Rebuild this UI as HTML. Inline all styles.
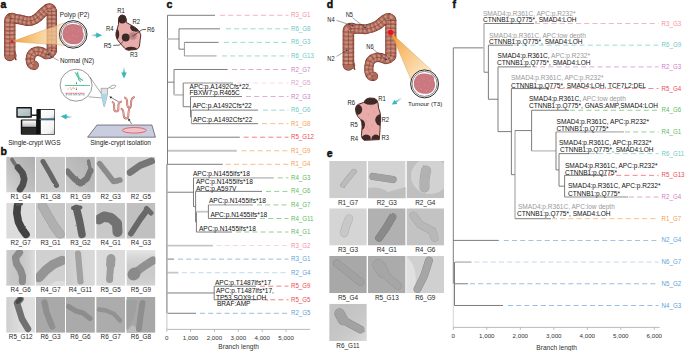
<!DOCTYPE html><html><head><meta charset="utf-8"><style>html,body{margin:0;padding:0;background:#fff;width:685px;height:351px;overflow:hidden}svg{display:block}text{font-family:"Liberation Sans",sans-serif}</style></head><body>
<svg width="685" height="351" viewBox="0 0 685 351">
<rect width="685" height="351" fill="#fff"/>
<text x="0.50" y="7.90" font-size="10.5" fill="#111" text-anchor="start" font-weight="bold" stroke="#111" stroke-width="0.45">a</text>
<text x="0.60" y="155.30" font-size="10.5" fill="#111" text-anchor="start" font-weight="bold" stroke="#111" stroke-width="0.45">b</text>
<text x="166.60" y="7.90" font-size="10.5" fill="#111" text-anchor="start" font-weight="bold" stroke="#111" stroke-width="0.45">c</text>
<text x="326.80" y="7.60" font-size="10.5" fill="#111" text-anchor="start" font-weight="bold" stroke="#111" stroke-width="0.45">d</text>
<text x="326.80" y="157.00" font-size="10.5" fill="#111" text-anchor="start" font-weight="bold" stroke="#111" stroke-width="0.45">e</text>
<text x="452.60" y="7.60" font-size="10.5" fill="#111" text-anchor="start" font-weight="bold" stroke="#111" stroke-width="0.45">f</text>
<line x1="167.50" y1="15.30" x2="215.00" y2="15.30" stroke="#666" stroke-width="0.85"/>
<line x1="220.00" y1="15.30" x2="288.50" y2="15.30" stroke="#f3909f" stroke-width="0.8" stroke-dasharray="5 3.2" opacity="0.85"/>
<text transform="translate(291.00,17.35) scale(0.79,1)" font-size="7.8" fill="#f3909f">R3_G1</text>
<line x1="179.00" y1="28.84" x2="220.00" y2="28.84" stroke="#666" stroke-width="0.85"/>
<line x1="226.00" y1="28.84" x2="288.50" y2="28.84" stroke="#6cc9c4" stroke-width="0.8" stroke-dasharray="5 3.2" opacity="0.85"/>
<text transform="translate(291.00,30.89) scale(0.79,1)" font-size="7.8" fill="#6cc9c4">R6_G8</text>
<line x1="184.40" y1="42.39" x2="218.60" y2="42.39" stroke="#666" stroke-width="0.85"/>
<line x1="224.00" y1="42.39" x2="288.50" y2="42.39" stroke="#6cc9c4" stroke-width="0.8" stroke-dasharray="5 3.2" opacity="0.85"/>
<text transform="translate(291.00,44.44) scale(0.79,1)" font-size="7.8" fill="#6cc9c4">R6_G3</text>
<line x1="184.40" y1="55.94" x2="216.60" y2="55.94" stroke="#c6c6c6" stroke-width="1.8"/>
<line x1="222.00" y1="55.94" x2="288.50" y2="55.94" stroke="#6cc9c4" stroke-width="0.8" stroke-dasharray="5 3.2" opacity="0.85"/>
<text transform="translate(291.00,57.98) scale(0.79,1)" font-size="7.8" fill="#6cc9c4">R6_G13</text>
<line x1="174.00" y1="69.48" x2="227.60" y2="69.48" stroke="#666" stroke-width="0.85"/>
<line x1="232.00" y1="69.48" x2="288.50" y2="69.48" stroke="#cf80bf" stroke-width="0.8" stroke-dasharray="5 3.2" opacity="0.85"/>
<text transform="translate(291.00,71.53) scale(0.79,1)" font-size="7.8" fill="#cf80bf">R2_G7</text>
<line x1="183.20" y1="83.02" x2="233.00" y2="83.02" stroke="#c6c6c6" stroke-width="1.8"/>
<line x1="237.00" y1="83.02" x2="288.50" y2="83.02" stroke="#ecc9e5" stroke-width="0.8" stroke-dasharray="5 3.2" opacity="0.85"/>
<text transform="translate(291.00,85.07) scale(0.79,1)" font-size="7.8" fill="#dd9ed0">R2_G5</text>
<line x1="190.50" y1="96.57" x2="242.00" y2="96.57" stroke="#666" stroke-width="0.85"/>
<line x1="246.00" y1="96.57" x2="288.50" y2="96.57" stroke="#cf80bf" stroke-width="0.8" stroke-dasharray="5 3.2" opacity="0.85"/>
<text transform="translate(291.00,98.62) scale(0.79,1)" font-size="7.8" fill="#cf80bf">R2_G3</text>
<line x1="191.40" y1="110.11" x2="258.00" y2="110.11" stroke="#666" stroke-width="0.85"/>
<line x1="263.00" y1="110.11" x2="288.50" y2="110.11" stroke="#6cc9c4" stroke-width="0.8" stroke-dasharray="5 3.2" opacity="0.85"/>
<text transform="translate(291.00,112.16) scale(0.79,1)" font-size="7.8" fill="#6cc9c4">R6_G6</text>
<line x1="191.40" y1="123.66" x2="258.00" y2="123.66" stroke="#666" stroke-width="0.85"/>
<line x1="262.00" y1="123.66" x2="288.50" y2="123.66" stroke="#f4a050" stroke-width="0.8" stroke-dasharray="5 3.2" opacity="0.85"/>
<text transform="translate(291.00,125.71) scale(0.79,1)" font-size="7.8" fill="#f4a050">R1_G8</text>
<line x1="167.50" y1="137.21" x2="239.80" y2="137.21" stroke="#666" stroke-width="0.85"/>
<line x1="243.70" y1="137.21" x2="288.50" y2="137.21" stroke="#ed4752" stroke-width="0.8" stroke-dasharray="5 3.2" opacity="0.85"/>
<text transform="translate(291.00,139.26) scale(0.79,1)" font-size="7.8" fill="#ed4752">R5_G12</text>
<line x1="167.50" y1="150.75" x2="236.80" y2="150.75" stroke="#c6c6c6" stroke-width="1.8"/>
<line x1="241.40" y1="150.75" x2="288.50" y2="150.75" stroke="#f4a050" stroke-width="0.8" stroke-dasharray="5 3.2" opacity="0.85"/>
<text transform="translate(291.00,152.80) scale(0.79,1)" font-size="7.8" fill="#f4a050">R1_G9</text>
<line x1="167.50" y1="164.30" x2="222.80" y2="164.30" stroke="#666" stroke-width="0.85"/>
<line x1="225.80" y1="164.30" x2="288.50" y2="164.30" stroke="#f4a050" stroke-width="0.8" stroke-dasharray="5 3.2" opacity="0.85"/>
<text transform="translate(291.00,166.35) scale(0.79,1)" font-size="7.8" fill="#f4a050">R1_G4</text>
<line x1="193.50" y1="177.84" x2="273.70" y2="177.84" stroke="#c6c6c6" stroke-width="1.8"/>
<line x1="277.80" y1="177.84" x2="288.50" y2="177.84" stroke="#62ba62" stroke-width="0.8" stroke-dasharray="5 3.2" opacity="0.85"/>
<text transform="translate(291.00,179.89) scale(0.79,1)" font-size="7.8" fill="#62ba62">R4_G3</text>
<line x1="195.60" y1="191.39" x2="262.00" y2="191.39" stroke="#666" stroke-width="0.85"/>
<line x1="266.00" y1="191.39" x2="288.50" y2="191.39" stroke="#62ba62" stroke-width="0.8" stroke-dasharray="5 3.2" opacity="0.85"/>
<text transform="translate(291.00,193.44) scale(0.79,1)" font-size="7.8" fill="#62ba62">R4_G6</text>
<line x1="208.40" y1="204.93" x2="253.00" y2="204.93" stroke="#c6c6c6" stroke-width="1.8"/>
<line x1="257.00" y1="204.93" x2="288.50" y2="204.93" stroke="#62ba62" stroke-width="0.8" stroke-dasharray="5 3.2" opacity="0.85"/>
<text transform="translate(291.00,206.98) scale(0.79,1)" font-size="7.8" fill="#62ba62">R4_G7</text>
<line x1="208.40" y1="218.48" x2="256.00" y2="218.48" stroke="#666" stroke-width="0.85"/>
<line x1="260.00" y1="218.48" x2="288.50" y2="218.48" stroke="#62ba62" stroke-width="0.8" stroke-dasharray="5 3.2" opacity="0.85"/>
<text transform="translate(291.00,220.53) scale(0.79,1)" font-size="7.8" fill="#62ba62">R4_G11</text>
<line x1="196.40" y1="232.02" x2="232.00" y2="232.02" stroke="#666" stroke-width="0.85"/>
<line x1="236.00" y1="232.02" x2="288.50" y2="232.02" stroke="#62ba62" stroke-width="0.8" stroke-dasharray="5 3.2" opacity="0.85"/>
<text transform="translate(291.00,234.07) scale(0.79,1)" font-size="7.8" fill="#62ba62">R4_G1</text>
<line x1="167.50" y1="245.56" x2="213.00" y2="245.56" stroke="#c6c6c6" stroke-width="1.8"/>
<line x1="216.40" y1="245.56" x2="288.50" y2="245.56" stroke="#f8c1ca" stroke-width="0.8" stroke-dasharray="5 3.2" opacity="0.85"/>
<text transform="translate(291.00,247.62) scale(0.79,1)" font-size="7.8" fill="#f3909f">R3_G2</text>
<line x1="167.50" y1="259.11" x2="174.00" y2="259.11" stroke="#666" stroke-width="0.85"/>
<line x1="178.00" y1="259.11" x2="288.50" y2="259.11" stroke="#609fd8" stroke-width="0.8" stroke-dasharray="5 3.2" opacity="0.85"/>
<text transform="translate(291.00,261.16) scale(0.79,1)" font-size="7.8" fill="#609fd8">R3_G1</text>
<line x1="167.50" y1="272.66" x2="178.40" y2="272.66" stroke="#c6c6c6" stroke-width="1.8"/>
<line x1="182.00" y1="272.66" x2="288.50" y2="272.66" stroke="#a7cae9" stroke-width="0.8" stroke-dasharray="5 3.2" opacity="0.85"/>
<text transform="translate(291.00,274.71) scale(0.79,1)" font-size="7.8" fill="#609fd8">R2_G4</text>
<line x1="214.20" y1="286.20" x2="256.00" y2="286.20" stroke="#666" stroke-width="0.85"/>
<line x1="260.00" y1="286.20" x2="288.50" y2="286.20" stroke="#ed4752" stroke-width="0.8" stroke-dasharray="5 3.2" opacity="0.85"/>
<text transform="translate(291.00,288.25) scale(0.79,1)" font-size="7.8" fill="#ed4752">R5_G9</text>
<line x1="214.20" y1="299.75" x2="258.00" y2="299.75" stroke="#666" stroke-width="0.85"/>
<line x1="262.00" y1="299.75" x2="288.50" y2="299.75" stroke="#ed4752" stroke-width="0.8" stroke-dasharray="5 3.2" opacity="0.85"/>
<text transform="translate(291.00,301.80) scale(0.79,1)" font-size="7.8" fill="#ed4752">R5_G5</text>
<line x1="167.50" y1="313.29" x2="196.00" y2="313.29" stroke="#666" stroke-width="0.85"/>
<line x1="200.00" y1="313.29" x2="288.50" y2="313.29" stroke="#609fd8" stroke-width="0.8" stroke-dasharray="5 3.2" opacity="0.85"/>
<text transform="translate(291.00,315.34) scale(0.79,1)" font-size="7.8" fill="#609fd8">R2_G5</text>
<line x1="167.50" y1="15.30" x2="167.50" y2="164.70" stroke="#666" stroke-width="0.85"/>
<line x1="166.90" y1="164.30" x2="166.90" y2="313.29" stroke="#8c8c8c" stroke-width="1.2"/>
<line x1="166.90" y1="313.29" x2="166.90" y2="329.40" stroke="#c8c8c8" stroke-width="1.0"/>
<line x1="167.50" y1="39.00" x2="179.00" y2="39.00" stroke="#c6c6c6" stroke-width="1.8"/>
<line x1="179.00" y1="28.84" x2="179.00" y2="49.16" stroke="#666" stroke-width="0.85"/>
<line x1="179.00" y1="49.16" x2="184.40" y2="49.16" stroke="#666" stroke-width="0.85"/>
<line x1="184.40" y1="42.39" x2="184.40" y2="55.94" stroke="#888" stroke-width="0.85"/>
<line x1="167.50" y1="82.18" x2="174.00" y2="82.18" stroke="#666" stroke-width="0.85"/>
<line x1="174.00" y1="69.48" x2="174.00" y2="94.88" stroke="#666" stroke-width="0.85"/>
<line x1="174.00" y1="94.88" x2="183.20" y2="94.88" stroke="#c6c6c6" stroke-width="1.8"/>
<line x1="183.20" y1="83.02" x2="183.20" y2="106.73" stroke="#666" stroke-width="0.85"/>
<line x1="183.20" y1="106.73" x2="190.50" y2="106.73" stroke="#666" stroke-width="0.85"/>
<line x1="190.50" y1="96.57" x2="190.50" y2="116.89" stroke="#666" stroke-width="0.85"/>
<line x1="190.50" y1="116.89" x2="191.40" y2="116.89" stroke="#666" stroke-width="0.85"/>
<line x1="191.40" y1="110.11" x2="191.40" y2="123.66" stroke="#888" stroke-width="0.85"/>
<line x1="167.50" y1="192.23" x2="193.50" y2="192.23" stroke="#666" stroke-width="0.85"/>
<line x1="193.50" y1="177.84" x2="193.50" y2="206.62" stroke="#666" stroke-width="0.85"/>
<line x1="193.50" y1="206.62" x2="195.60" y2="206.62" stroke="#666" stroke-width="0.85"/>
<line x1="195.60" y1="191.39" x2="195.60" y2="221.86" stroke="#666" stroke-width="0.85"/>
<line x1="195.60" y1="221.86" x2="196.40" y2="221.86" stroke="#666" stroke-width="0.85"/>
<line x1="196.40" y1="211.70" x2="196.40" y2="232.02" stroke="#666" stroke-width="0.85"/>
<line x1="196.40" y1="211.70" x2="208.40" y2="211.70" stroke="#c6c6c6" stroke-width="1.8"/>
<line x1="208.40" y1="204.93" x2="208.40" y2="218.48" stroke="#666" stroke-width="0.85"/>
<line x1="167.50" y1="292.97" x2="214.20" y2="292.97" stroke="#666" stroke-width="0.85"/>
<line x1="214.20" y1="286.20" x2="214.20" y2="299.75" stroke="#666" stroke-width="0.85"/>
<line x1="166.70" y1="329.40" x2="310.30" y2="329.40" stroke="#aaa" stroke-width="0.8"/>
<line x1="166.70" y1="329.40" x2="166.70" y2="331.80" stroke="#aaa" stroke-width="0.8"/>
<text x="166.70" y="339.60" font-size="6.2" fill="#333" text-anchor="middle" font-weight="normal" >0</text>
<line x1="190.58" y1="329.40" x2="190.58" y2="331.80" stroke="#aaa" stroke-width="0.8"/>
<text x="190.58" y="339.60" font-size="6.2" fill="#333" text-anchor="middle" font-weight="normal" >1,000</text>
<line x1="214.46" y1="329.40" x2="214.46" y2="331.80" stroke="#aaa" stroke-width="0.8"/>
<text x="214.46" y="339.60" font-size="6.2" fill="#333" text-anchor="middle" font-weight="normal" >2,000</text>
<line x1="238.34" y1="329.40" x2="238.34" y2="331.80" stroke="#aaa" stroke-width="0.8"/>
<text x="238.34" y="339.60" font-size="6.2" fill="#333" text-anchor="middle" font-weight="normal" >3,000</text>
<line x1="262.22" y1="329.40" x2="262.22" y2="331.80" stroke="#aaa" stroke-width="0.8"/>
<text x="262.22" y="339.60" font-size="6.2" fill="#333" text-anchor="middle" font-weight="normal" >4,000</text>
<line x1="286.10" y1="329.40" x2="286.10" y2="331.80" stroke="#aaa" stroke-width="0.8"/>
<text x="286.10" y="339.60" font-size="6.2" fill="#333" text-anchor="middle" font-weight="normal" >5,000</text>
<text x="238.70" y="349.40" font-size="6.6" fill="#333" text-anchor="middle" font-weight="normal" >Branch length</text>
<text x="189.60" y="88.60" font-size="6.55" fill="#111" text-anchor="start" font-weight="normal" >APC:p.A1492Cfs*22,</text>
<text x="189.60" y="95.00" font-size="6.55" fill="#111" text-anchor="start" font-weight="normal" >FBXW7:p.R465C</text>
<text x="192.40" y="108.20" font-size="6.55" fill="#111" text-anchor="start" font-weight="normal" >APC:p.A1492Cfs*22</text>
<text x="193.00" y="122.20" font-size="6.55" fill="#111" text-anchor="start" font-weight="normal" >APC:p.A1492Cfs*22</text>
<text x="193.00" y="175.60" font-size="6.55" fill="#111" text-anchor="start" font-weight="normal" >APC:p.N1455Ifs*18</text>
<text x="196.00" y="183.60" font-size="6.55" fill="#111" text-anchor="start" font-weight="normal" >APC:p.N1455Ifs*18</text>
<text x="196.00" y="190.60" font-size="6.55" fill="#111" text-anchor="start" font-weight="normal" >APC:p.A597V</text>
<text x="209.00" y="203.20" font-size="6.55" fill="#111" text-anchor="start" font-weight="normal" >APC:p.N1455Ifs*18</text>
<text x="210.40" y="217.00" font-size="6.55" fill="#111" text-anchor="start" font-weight="normal" >APC:p.N1455Ifs*18</text>
<text x="199.00" y="230.60" font-size="6.55" fill="#111" text-anchor="start" font-weight="normal" >APC:p.N1455Ifs*18</text>
<text x="215.00" y="285.00" font-size="6.55" fill="#111" text-anchor="start" font-weight="normal" >APC:p.T1487Ifs*17</text>
<text x="216.00" y="293.20" font-size="6.55" fill="#111" text-anchor="start" font-weight="normal" >APC:p.T1487Ifs*17,</text>
<text x="216.00" y="299.60" font-size="6.55" fill="#111" text-anchor="start" font-weight="normal" >TP53,SOX9:LOH,</text>
<text x="217.00" y="305.60" font-size="6.55" fill="#111" text-anchor="start" font-weight="normal" >BRAF:AMP</text>
<line x1="484.00" y1="23.50" x2="534.00" y2="23.50" stroke="#666" stroke-width="0.85"/>
<line x1="535.00" y1="23.50" x2="658.50" y2="23.50" stroke="#f3909f" stroke-width="0.8" stroke-dasharray="5 3.2" opacity="0.85"/>
<text transform="translate(661.60,25.55) scale(0.79,1)" font-size="7.8" fill="#f3909f">R3_G3</text>
<line x1="488.40" y1="45.19" x2="513.00" y2="45.19" stroke="#666" stroke-width="0.85"/>
<line x1="514.00" y1="45.19" x2="658.50" y2="45.19" stroke="#6cc9c4" stroke-width="0.8" stroke-dasharray="5 3.2" opacity="0.85"/>
<text transform="translate(661.60,47.24) scale(0.79,1)" font-size="7.8" fill="#6cc9c4">R6_G9</text>
<line x1="498.00" y1="66.88" x2="531.00" y2="66.88" stroke="#666" stroke-width="0.85"/>
<line x1="532.00" y1="66.88" x2="658.50" y2="66.88" stroke="#cf80bf" stroke-width="0.8" stroke-dasharray="5 3.2" opacity="0.85"/>
<text transform="translate(661.60,68.93) scale(0.79,1)" font-size="7.8" fill="#cf80bf">R2_G3</text>
<line x1="511.40" y1="88.57" x2="549.00" y2="88.57" stroke="#666" stroke-width="0.85"/>
<line x1="550.00" y1="88.57" x2="658.50" y2="88.57" stroke="#ed4752" stroke-width="0.8" stroke-dasharray="5 3.2" opacity="0.85"/>
<text transform="translate(661.60,90.62) scale(0.79,1)" font-size="7.8" fill="#ed4752">R5_G4</text>
<line x1="531.60" y1="110.26" x2="569.00" y2="110.26" stroke="#666" stroke-width="0.85"/>
<line x1="570.00" y1="110.26" x2="658.50" y2="110.26" stroke="#62ba62" stroke-width="0.8" stroke-dasharray="5 3.2" opacity="0.85"/>
<text transform="translate(661.60,112.31) scale(0.79,1)" font-size="7.8" fill="#62ba62">R4_G6</text>
<line x1="556.00" y1="131.95" x2="624.00" y2="131.95" stroke="#c6c6c6" stroke-width="1.8"/>
<line x1="625.00" y1="131.95" x2="658.50" y2="131.95" stroke="#62ba62" stroke-width="0.8" stroke-dasharray="5 3.2" opacity="0.85"/>
<text transform="translate(661.60,134.00) scale(0.79,1)" font-size="7.8" fill="#62ba62">R4_G1</text>
<line x1="559.00" y1="153.64" x2="589.00" y2="153.64" stroke="#666" stroke-width="0.85"/>
<line x1="590.00" y1="153.64" x2="658.50" y2="153.64" stroke="#6cc9c4" stroke-width="0.8" stroke-dasharray="5 3.2" opacity="0.85"/>
<text transform="translate(661.60,155.69) scale(0.79,1)" font-size="7.8" fill="#6cc9c4">R6_G11</text>
<line x1="564.60" y1="175.33" x2="607.00" y2="175.33" stroke="#666" stroke-width="0.85"/>
<line x1="608.00" y1="175.33" x2="658.50" y2="175.33" stroke="#ed4752" stroke-width="0.8" stroke-dasharray="5 3.2" opacity="0.85"/>
<text transform="translate(661.60,177.38) scale(0.79,1)" font-size="7.8" fill="#ed4752">R5_G13</text>
<line x1="564.60" y1="197.02" x2="628.00" y2="197.02" stroke="#c6c6c6" stroke-width="1.8"/>
<line x1="629.00" y1="197.02" x2="658.50" y2="197.02" stroke="#cf80bf" stroke-width="0.8" stroke-dasharray="5 3.2" opacity="0.85"/>
<text transform="translate(661.60,199.07) scale(0.79,1)" font-size="7.8" fill="#cf80bf">R2_G4</text>
<line x1="515.00" y1="218.71" x2="551.00" y2="218.71" stroke="#666" stroke-width="0.85"/>
<line x1="552.00" y1="218.71" x2="658.50" y2="218.71" stroke="#f4a050" stroke-width="0.8" stroke-dasharray="5 3.2" opacity="0.85"/>
<text transform="translate(661.60,220.76) scale(0.79,1)" font-size="7.8" fill="#f4a050">R1_G7</text>
<line x1="453.30" y1="240.40" x2="498.80" y2="240.40" stroke="#666" stroke-width="0.85"/>
<line x1="503.80" y1="240.40" x2="658.50" y2="240.40" stroke="#609fd8" stroke-width="0.8" stroke-dasharray="5 3.2" opacity="0.85"/>
<text transform="translate(661.60,242.45) scale(0.79,1)" font-size="7.8" fill="#609fd8">N2_G4</text>
<line x1="455.00" y1="262.09" x2="471.50" y2="262.09" stroke="#c6c6c6" stroke-width="1.8"/>
<line x1="474.40" y1="262.09" x2="658.50" y2="262.09" stroke="#a7cae9" stroke-width="0.8" stroke-dasharray="5 3.2" opacity="0.85"/>
<text transform="translate(661.60,264.14) scale(0.79,1)" font-size="7.8" fill="#609fd8">N6_G7</text>
<line x1="455.00" y1="283.78" x2="468.00" y2="283.78" stroke="#666" stroke-width="0.85"/>
<line x1="470.00" y1="283.78" x2="658.50" y2="283.78" stroke="#609fd8" stroke-width="0.8" stroke-dasharray="5 3.2" opacity="0.85"/>
<text transform="translate(661.60,285.83) scale(0.79,1)" font-size="7.8" fill="#609fd8">N5_G2</text>
<line x1="454.40" y1="305.47" x2="503.00" y2="305.47" stroke="#666" stroke-width="0.85"/>
<line x1="508.00" y1="305.47" x2="658.50" y2="305.47" stroke="#609fd8" stroke-width="0.8" stroke-dasharray="5 3.2" opacity="0.85"/>
<text transform="translate(661.60,307.52) scale(0.79,1)" font-size="7.8" fill="#609fd8">N4_G3</text>
<line x1="453.30" y1="47.86" x2="453.30" y2="283.78" stroke="#666" stroke-width="0.85"/>
<line x1="453.30" y1="283.78" x2="453.30" y2="327.40" stroke="#ccc" stroke-width="0.85"/>
<line x1="453.30" y1="47.86" x2="484.00" y2="47.86" stroke="#666" stroke-width="0.85"/>
<line x1="484.00" y1="23.50" x2="484.00" y2="72.22" stroke="#c6c6c6" stroke-width="1.8"/>
<line x1="484.00" y1="72.22" x2="488.40" y2="72.22" stroke="#666" stroke-width="0.85"/>
<line x1="488.40" y1="45.19" x2="488.40" y2="99.25" stroke="#666" stroke-width="0.85"/>
<line x1="488.40" y1="99.25" x2="498.00" y2="99.25" stroke="#666" stroke-width="0.85"/>
<line x1="498.00" y1="66.88" x2="498.00" y2="131.61" stroke="#666" stroke-width="0.85"/>
<line x1="498.00" y1="131.61" x2="511.40" y2="131.61" stroke="#666" stroke-width="0.85"/>
<line x1="511.40" y1="88.57" x2="511.40" y2="174.65" stroke="#666" stroke-width="0.85"/>
<line x1="511.40" y1="174.65" x2="515.00" y2="174.65" stroke="#666" stroke-width="0.85"/>
<line x1="515.00" y1="130.59" x2="515.00" y2="218.71" stroke="#888" stroke-width="0.85"/>
<line x1="515.00" y1="130.59" x2="531.60" y2="130.59" stroke="#666" stroke-width="0.85"/>
<line x1="531.60" y1="110.26" x2="531.60" y2="150.93" stroke="#666" stroke-width="0.85"/>
<line x1="531.60" y1="150.93" x2="556.00" y2="150.93" stroke="#999" stroke-width="0.85"/>
<line x1="556.00" y1="131.95" x2="556.00" y2="169.91" stroke="#666" stroke-width="0.85"/>
<line x1="556.00" y1="169.91" x2="559.00" y2="169.91" stroke="#666" stroke-width="0.85"/>
<line x1="559.00" y1="153.64" x2="559.00" y2="186.18" stroke="#666" stroke-width="0.85"/>
<line x1="559.00" y1="186.18" x2="564.60" y2="186.18" stroke="#666" stroke-width="0.85"/>
<line x1="564.60" y1="175.33" x2="564.60" y2="197.02" stroke="#666" stroke-width="0.85"/>
<line x1="454.50" y1="262.09" x2="454.50" y2="305.47" stroke="#666" stroke-width="0.85"/>
<line x1="453.30" y1="327.40" x2="659.70" y2="327.40" stroke="#aaa" stroke-width="0.8"/>
<line x1="453.30" y1="327.40" x2="453.30" y2="329.80" stroke="#aaa" stroke-width="0.8"/>
<text x="453.30" y="337.60" font-size="6.2" fill="#333" text-anchor="middle" font-weight="normal" >0</text>
<line x1="486.80" y1="327.40" x2="486.80" y2="329.80" stroke="#aaa" stroke-width="0.8"/>
<text x="486.80" y="337.60" font-size="6.2" fill="#333" text-anchor="middle" font-weight="normal" >1,000</text>
<line x1="520.30" y1="327.40" x2="520.30" y2="329.80" stroke="#aaa" stroke-width="0.8"/>
<text x="520.30" y="337.60" font-size="6.2" fill="#333" text-anchor="middle" font-weight="normal" >2,000</text>
<line x1="553.80" y1="327.40" x2="553.80" y2="329.80" stroke="#aaa" stroke-width="0.8"/>
<text x="553.80" y="337.60" font-size="6.2" fill="#333" text-anchor="middle" font-weight="normal" >3,000</text>
<line x1="587.30" y1="327.40" x2="587.30" y2="329.80" stroke="#aaa" stroke-width="0.8"/>
<text x="587.30" y="337.60" font-size="6.2" fill="#333" text-anchor="middle" font-weight="normal" >4,000</text>
<line x1="620.80" y1="327.40" x2="620.80" y2="329.80" stroke="#aaa" stroke-width="0.8"/>
<text x="620.80" y="337.60" font-size="6.2" fill="#333" text-anchor="middle" font-weight="normal" >5,000</text>
<line x1="654.30" y1="327.40" x2="654.30" y2="329.80" stroke="#aaa" stroke-width="0.8"/>
<text x="654.30" y="337.60" font-size="6.2" fill="#333" text-anchor="middle" font-weight="normal" >6,000</text>
<text x="556.70" y="349.60" font-size="6.6" fill="#333" text-anchor="middle" font-weight="normal" >Branch length</text>
<text x="483.00" y="16.40" font-size="6.55"><tspan fill="#999">SMAD4:p.R361C, APC:p.R232*</tspan></text>
<text x="483.00" y="22.40" font-size="6.55"><tspan fill="#111">CTNNB1:p.Q775*, SMAD4:LOH</tspan></text>
<text x="489.00" y="37.80" font-size="6.55"><tspan fill="#999">SMAD4:p.R361C, APC:low depth</tspan></text>
<text x="489.00" y="44.20" font-size="6.55"><tspan fill="#111">CTNNB1:p.Q775*, SMAD4:LOH</tspan></text>
<text x="497.60" y="57.80" font-size="6.55"><tspan fill="#111">SMAD4:p.R361C, </tspan><tspan fill="#999">APC:p.R232*</tspan></text>
<text x="497.00" y="65.20" font-size="6.55"><tspan fill="#111">CTNNB1:p.Q775*, SMAD4:LOH</tspan></text>
<text x="511.00" y="80.40" font-size="6.55"><tspan fill="#999">SMAD4:p.R361C, APC:p.R232*</tspan></text>
<text x="511.00" y="87.80" font-size="6.55"><tspan fill="#111">CTNNB1:p.Q775*, SMAD4:LOH, TCF7L2:DEL</tspan></text>
<text x="529.00" y="100.80" font-size="6.55"><tspan fill="#111">SMAD4:p.R361C, </tspan><tspan fill="#999">APC:low depth</tspan></text>
<text x="529.00" y="108.40" font-size="6.55"><tspan fill="#111">CTNNB1:p.Q775*, GNAS:AMP,SMAD4:LOH</tspan></text>
<text x="556.60" y="123.80" font-size="6.55"><tspan fill="#111">SMAD4:p.R361C, APC:p.R232*</tspan></text>
<text x="556.40" y="131.20" font-size="6.55"><tspan fill="#111">CTNNB1:p.Q775*</tspan></text>
<text x="559.00" y="144.80" font-size="6.55"><tspan fill="#111">SMAD4:p.R361C, APC:p.R232*</tspan></text>
<text x="560.00" y="151.80" font-size="6.55"><tspan fill="#111">CTNNB1:p.Q775*, SMAD4:LOH</tspan></text>
<text x="565.00" y="168.40" font-size="6.55"><tspan fill="#111">SMAD4:p.R361C, APC:p.R232*</tspan></text>
<text x="565.00" y="174.80" font-size="6.55"><tspan fill="#111">CTNNB1:p.Q775*</tspan></text>
<text x="568.00" y="187.80" font-size="6.55"><tspan fill="#111">SMAD4:p.R361C, APC:p.R232*</tspan></text>
<text x="568.00" y="195.80" font-size="6.55"><tspan fill="#111">CTNNB1:p.Q775*</tspan></text>
<text x="518.00" y="209.20" font-size="6.55"><tspan fill="#999">SMAD4:p.R361C, APC:low depth</tspan></text>
<text x="517.00" y="216.40" font-size="6.55"><tspan fill="#111">CTNNB1:p.Q775*, SMAD4:LOH</tspan></text>
<filter id="rough" filterUnits="userSpaceOnUse" x="0" y="0" width="685" height="351"><feTurbulence type="fractalNoise" baseFrequency="0.9" numOctaves="2" seed="3" result="n"/><feDisplacementMap in="SourceGraphic" in2="n" scale="1.6" xChannelSelector="R" yChannelSelector="G"/></filter>
<clipPath id="cl1"><rect x="6.20" y="156.70" width="29.00" height="35.80"/></clipPath>
<g clip-path="url(#cl1)">
<rect x="6.20" y="156.70" width="29.00" height="35.80" fill="#cbcbcb"/>
<linearGradient id="gr1" x1="0" y1="1" x2="1" y2="0"><stop offset="0" stop-color="#ffffff" stop-opacity="0.2"/><stop offset="1" stop-color="#000000" stop-opacity="0.14"/></linearGradient>
<rect x="6.20" y="156.70" width="29.00" height="35.80" fill="url(#gr1)"/>
<g filter="url(#rough)">
<path d="M12,159.5 L14.5,163.5 L18,168" fill="none" stroke="#707070" stroke-width="3.6" stroke-linecap="round" stroke-linejoin="round"/>
<path d="M18,167.5 L22.5,173 L24.2,179 L22.8,185 L20,189.5" fill="none" stroke="#505050" stroke-width="6.6" stroke-linecap="round" stroke-linejoin="round"/>
</g></g>
<clipPath id="cl2"><rect x="36.00" y="156.70" width="29.00" height="35.80"/></clipPath>
<g clip-path="url(#cl2)">
<rect x="36.00" y="156.70" width="29.00" height="35.80" fill="#c8c8c8"/>
<g filter="url(#rough)">
<path d="M43,161.5 L50,173.5 L56.5,185.5" fill="none" stroke="#656565" stroke-width="5" stroke-linecap="round" stroke-linejoin="round"/>
</g></g>
<clipPath id="cl3"><rect x="65.90" y="156.70" width="29.00" height="35.80"/></clipPath>
<g clip-path="url(#cl3)">
<rect x="65.90" y="156.70" width="29.00" height="35.80" fill="#c2c2c2"/>
<linearGradient id="gr3" x1="0" y1="1" x2="1" y2="0"><stop offset="0" stop-color="#ffffff" stop-opacity="0.12"/><stop offset="1" stop-color="#000000" stop-opacity="0.08"/></linearGradient>
<rect x="65.90" y="156.70" width="29.00" height="35.80" fill="url(#gr3)"/>
<g filter="url(#rough)">
<path d="M67.5,171.5 L74,178.5 L80.5,183.5 L87,178.5 L90.5,170.5" fill="none" stroke="#747474" stroke-width="6" stroke-linecap="round" stroke-linejoin="round"/>
<path d="M90.5,170.5 L88.5,161" fill="none" stroke="#7a7a7a" stroke-width="3.4" stroke-linecap="round" stroke-linejoin="round"/>
</g></g>
<clipPath id="cl4"><rect x="96.20" y="156.70" width="29.00" height="35.80"/></clipPath>
<g clip-path="url(#cl4)">
<rect x="96.20" y="156.70" width="29.00" height="35.80" fill="#d0d0d0"/>
<g filter="url(#rough)">
<path d="M99.5,163.5 L107,173 L113.5,181.5 L120,180" fill="none" stroke="#8c8c8c" stroke-width="5.4" stroke-linecap="round" stroke-linejoin="round"/>
</g></g>
<clipPath id="cl5"><rect x="126.40" y="156.70" width="29.00" height="35.80"/></clipPath>
<g clip-path="url(#cl5)">
<rect x="126.40" y="156.70" width="29.00" height="35.80" fill="#d0d0d0"/>
<g filter="url(#rough)">
<path d="M130,172.5 L140,165.5 L151.5,161" fill="none" stroke="#767676" stroke-width="6.8" stroke-linecap="round" stroke-linejoin="round"/>
</g></g>
<clipPath id="cl6"><rect x="6.20" y="202.90" width="29.00" height="35.80"/></clipPath>
<g clip-path="url(#cl6)">
<rect x="6.20" y="202.90" width="29.00" height="35.80" fill="#dcdcdc"/>
<g filter="url(#rough)">
<path d="M17.5,205.5 L16.8,213 L18.5,222 L22,229 L26,234.5" fill="none" stroke="#424242" stroke-width="7.6" stroke-linecap="round" stroke-linejoin="round"/>
<path d="M17,204.5 L21.5,204" fill="none" stroke="#555" stroke-width="3" stroke-linecap="round" stroke-linejoin="round"/>
</g></g>
<clipPath id="cl7"><rect x="36.00" y="202.90" width="29.00" height="35.80"/></clipPath>
<g clip-path="url(#cl7)">
<rect x="36.00" y="202.90" width="29.00" height="35.80" fill="#c6c6c6"/>
<g filter="url(#rough)">
<path d="M42.5,206 L47,214 L54,226 L60,234" fill="none" stroke="#9a9a9a" stroke-width="9.30" stroke-linecap="round" stroke-linejoin="round"/>
<path d="M42.5,206 L47,214 L54,226 L60,234" fill="none" stroke="#b0b0b0" stroke-width="8.5" stroke-linecap="round" stroke-linejoin="round"/>
</g></g>
<clipPath id="cl8"><rect x="65.90" y="202.90" width="29.00" height="35.80"/></clipPath>
<g clip-path="url(#cl8)">
<rect x="65.90" y="202.90" width="29.00" height="35.80" fill="#d0d0d0"/>
<g filter="url(#rough)">
<path d="M76.5,208.5 L79.5,221 L82,234.5" fill="none" stroke="#606060" stroke-width="7.5" stroke-linecap="round" stroke-linejoin="round"/>
<path d="M73,208 L80.5,207.5" fill="none" stroke="#606060" stroke-width="4" stroke-linecap="round" stroke-linejoin="round"/>
</g></g>
<clipPath id="cl9"><rect x="96.20" y="202.90" width="29.00" height="35.80"/></clipPath>
<g clip-path="url(#cl9)">
<rect x="96.20" y="202.90" width="29.00" height="35.80" fill="#c8c8c8"/>
<g filter="url(#rough)">
<path d="M99,219.5 L104,216.5 L111,218 L117,223.5 L117.5,232" fill="none" stroke="#727272" stroke-width="10" stroke-linecap="round" stroke-linejoin="round"/>
</g></g>
<clipPath id="cl10"><rect x="126.40" y="202.90" width="29.00" height="35.80"/></clipPath>
<g clip-path="url(#cl10)">
<rect x="126.40" y="202.90" width="29.00" height="35.80" fill="#c0c0c0"/>
<g filter="url(#rough)">
<path d="M147,210 L140,219.5 L131,233.5" fill="none" stroke="#686868" stroke-width="6" stroke-linecap="round" stroke-linejoin="round"/>
<path d="M146.5,208.5 L151,213" fill="none" stroke="#6a6a6a" stroke-width="5" stroke-linecap="round" stroke-linejoin="round"/>
</g></g>
<clipPath id="cl11"><rect x="6.20" y="250.00" width="29.00" height="35.80"/></clipPath>
<g clip-path="url(#cl11)">
<rect x="6.20" y="250.00" width="29.00" height="35.80" fill="#d3d3d3"/>
<linearGradient id="gr11" x1="0" y1="0" x2="1" y2="0"><stop offset="0" stop-color="#000000" stop-opacity="0.03"/><stop offset="1" stop-color="#ffffff" stop-opacity="0.25"/></linearGradient>
<rect x="6.20" y="250.00" width="29.00" height="35.80" fill="url(#gr11)"/>
<g filter="url(#rough)">
<path d="M19.5,252.5 L15.5,257.5 L16.5,263.5 L20.5,270 L22.5,276 L22.3,281.5" fill="none" stroke="#8c8c8c" stroke-width="7.2" stroke-linecap="round" stroke-linejoin="round"/>
</g></g>
<clipPath id="cl12"><rect x="36.00" y="250.00" width="29.00" height="35.80"/></clipPath>
<g clip-path="url(#cl12)">
<rect x="36.00" y="250.00" width="29.00" height="35.80" fill="#d0d0d0"/>
<path d="M48,286 L56,281 L70,281 L70,290 Z" fill="#dedede"/>
<g filter="url(#rough)">
<path d="M39,277.5 L46,270 L53,264.5 L62,260.5" fill="none" stroke="#959595" stroke-width="9.5" stroke-linecap="round" stroke-linejoin="round"/>
</g></g>
<clipPath id="cl13"><rect x="65.90" y="250.00" width="29.00" height="35.80"/></clipPath>
<g clip-path="url(#cl13)">
<rect x="65.90" y="250.00" width="29.00" height="35.80" fill="#d8d8d8"/>
<linearGradient id="gr13" x1="0" y1="0" x2="1" y2="0"><stop offset="0" stop-color="#000000" stop-opacity="0.06"/><stop offset="1" stop-color="#ffffff" stop-opacity="0.0"/></linearGradient>
<rect x="65.90" y="250.00" width="29.00" height="35.80" fill="url(#gr13)"/>
<g filter="url(#rough)">
<path d="M78,253.5 L79,265 L80.5,281.5" fill="none" stroke="#a2a2a2" stroke-width="6.2" stroke-linecap="round" stroke-linejoin="round"/>
</g></g>
<clipPath id="cl14"><rect x="96.20" y="250.00" width="29.00" height="35.80"/></clipPath>
<g clip-path="url(#cl14)">
<rect x="96.20" y="250.00" width="29.00" height="35.80" fill="#dbdbdb"/>
<g filter="url(#rough)">
<path d="M111,258.5 L110.6,265" fill="none" stroke="#9c9c9c" stroke-width="9" stroke-linecap="round" stroke-linejoin="round"/>
<path d="M110.6,265 L109.6,279.5" fill="none" stroke="#9c9c9c" stroke-width="7" stroke-linecap="round" stroke-linejoin="round"/>
</g></g>
<clipPath id="cl15"><rect x="126.40" y="250.00" width="29.00" height="35.80"/></clipPath>
<g clip-path="url(#cl15)">
<rect x="126.40" y="250.00" width="29.00" height="35.80" fill="#dbdbdb"/>
<linearGradient id="gr15" x1="0" y1="0" x2="0" y2="1"><stop offset="0" stop-color="#ffffff" stop-opacity="0.3"/><stop offset="1" stop-color="#000000" stop-opacity="0.03"/></linearGradient>
<rect x="126.40" y="250.00" width="29.00" height="35.80" fill="url(#gr15)"/>
<g filter="url(#rough)">
<path d="M134,273.5 L145,265.5 L153,260.5" fill="none" stroke="#909090" stroke-width="8" stroke-linecap="round" stroke-linejoin="round"/>
<path d="M133.5,274.5 L134.5,273.5" fill="none" stroke="#8a8a8a" stroke-width="12" stroke-linecap="round" stroke-linejoin="round"/>
</g></g>
<clipPath id="cl16"><rect x="6.20" y="297.00" width="29.00" height="35.80"/></clipPath>
<g clip-path="url(#cl16)">
<rect x="6.20" y="297.00" width="29.00" height="35.80" fill="#e0e0e0"/>
<linearGradient id="gr16" x1="0" y1="0" x2="1" y2="0"><stop offset="0" stop-color="#000000" stop-opacity="0.08"/><stop offset="1" stop-color="#ffffff" stop-opacity="0.0"/></linearGradient>
<rect x="6.20" y="297.00" width="29.00" height="35.80" fill="url(#gr16)"/>
<g filter="url(#rough)">
<path d="M20.5,299 L17,303 L22,319 L28,329" fill="none" stroke="#707070" stroke-width="6.5" stroke-linecap="round" stroke-linejoin="round"/>
<path d="M20.5,299 L17.5,302" fill="none" stroke="#4a4a4a" stroke-width="4" stroke-linecap="round" stroke-linejoin="round"/>
</g></g>
<clipPath id="cl17"><rect x="36.00" y="297.00" width="29.00" height="35.80"/></clipPath>
<g clip-path="url(#cl17)">
<rect x="36.00" y="297.00" width="29.00" height="35.80" fill="#a9a9a9"/>
<g filter="url(#rough)">
<path d="M44.5,302.5 L46.5,312 L49.5,320 L52.3,326.5" fill="none" stroke="#8f8f8f" stroke-width="6.2" stroke-linecap="round" stroke-linejoin="round"/>
</g></g>
<clipPath id="cl18"><rect x="65.90" y="297.00" width="29.00" height="35.80"/></clipPath>
<g clip-path="url(#cl18)">
<rect x="65.90" y="297.00" width="29.00" height="35.80" fill="#aaaaaa"/>
<g filter="url(#rough)">
<path d="M68.5,306.5 L76,311 L83,313 L90,318.5" fill="none" stroke="#8d8d8d" stroke-width="5.2" stroke-linecap="round" stroke-linejoin="round"/>
</g></g>
<clipPath id="cl19"><rect x="96.20" y="297.00" width="29.00" height="35.80"/></clipPath>
<g clip-path="url(#cl19)">
<rect x="96.20" y="297.00" width="29.00" height="35.80" fill="#acacac"/>
<g filter="url(#rough)">
<path d="M99,309.5 L106,310.5 L114,314 L120,320.5" fill="none" stroke="#929292" stroke-width="4.5" stroke-linecap="round" stroke-linejoin="round"/>
</g></g>
<clipPath id="cl20"><rect x="126.40" y="297.00" width="29.00" height="35.80"/></clipPath>
<g clip-path="url(#cl20)">
<rect x="126.40" y="297.00" width="29.00" height="35.80" fill="#a7a7a7"/>
<path d="M126,330 Q136,320 137,300 L126,300 Z" fill="#a0a0a0"/><path d="M126,333 Q135,318 137,333 Z" fill="#bdbdbd"/>
<g filter="url(#rough)">
<path d="M142.5,303 L140.5,316 L139,329" fill="none" stroke="#8e8e8e" stroke-width="6" stroke-linecap="round" stroke-linejoin="round"/>
</g></g>
<text x="20.70" y="199.10" font-size="6.4" fill="#262626" text-anchor="middle" font-weight="normal" >R1_G4</text>
<text x="50.50" y="199.10" font-size="6.4" fill="#262626" text-anchor="middle" font-weight="normal" >R1_G8</text>
<text x="80.40" y="199.10" font-size="6.4" fill="#262626" text-anchor="middle" font-weight="normal" >R1_G9</text>
<text x="110.70" y="199.10" font-size="6.4" fill="#262626" text-anchor="middle" font-weight="normal" >R2_G3</text>
<text x="140.90" y="199.10" font-size="6.4" fill="#262626" text-anchor="middle" font-weight="normal" >R2_G5</text>
<text x="20.70" y="245.30" font-size="6.4" fill="#262626" text-anchor="middle" font-weight="normal" >R2_G7</text>
<text x="50.50" y="245.30" font-size="6.4" fill="#262626" text-anchor="middle" font-weight="normal" >R3_G1</text>
<text x="80.40" y="245.30" font-size="6.4" fill="#262626" text-anchor="middle" font-weight="normal" >R3_G2</text>
<text x="110.70" y="245.30" font-size="6.4" fill="#262626" text-anchor="middle" font-weight="normal" >R4_G1</text>
<text x="140.90" y="245.30" font-size="6.4" fill="#262626" text-anchor="middle" font-weight="normal" >R4_G3</text>
<text x="20.70" y="292.40" font-size="6.4" fill="#262626" text-anchor="middle" font-weight="normal" >R4_G6</text>
<text x="50.50" y="292.40" font-size="6.4" fill="#262626" text-anchor="middle" font-weight="normal" >R4_G7</text>
<text x="80.40" y="292.40" font-size="6.4" fill="#262626" text-anchor="middle" font-weight="normal" >R4_G11</text>
<text x="110.70" y="292.40" font-size="6.4" fill="#262626" text-anchor="middle" font-weight="normal" >R5_G5</text>
<text x="140.90" y="292.40" font-size="6.4" fill="#262626" text-anchor="middle" font-weight="normal" >R5_G9</text>
<text x="20.70" y="339.40" font-size="6.4" fill="#262626" text-anchor="middle" font-weight="normal" >R5_G12</text>
<text x="50.50" y="339.40" font-size="6.4" fill="#262626" text-anchor="middle" font-weight="normal" >R6_G3</text>
<text x="80.40" y="339.40" font-size="6.4" fill="#262626" text-anchor="middle" font-weight="normal" >R6_G6</text>
<text x="110.70" y="339.40" font-size="6.4" fill="#262626" text-anchor="middle" font-weight="normal" >R6_G7</text>
<text x="140.90" y="339.40" font-size="6.4" fill="#262626" text-anchor="middle" font-weight="normal" >R6_G8</text>
<clipPath id="cl21"><rect x="329.20" y="161.00" width="37.60" height="37.30"/></clipPath>
<g clip-path="url(#cl21)">
<rect x="329.20" y="161.00" width="37.60" height="37.30" fill="#cecece"/>
<g filter="url(#rough)">
<path d="M343,185 L348,178.5 L354,171.5" fill="none" stroke="#989898" stroke-width="5.30" stroke-linecap="round" stroke-linejoin="round"/>
<path d="M343,185 L348,178.5 L354,171.5" fill="none" stroke="#bcbcbc" stroke-width="4.5" stroke-linecap="round" stroke-linejoin="round"/>
</g></g>
<clipPath id="cl22"><rect x="368.00" y="161.00" width="37.60" height="37.30"/></clipPath>
<g clip-path="url(#cl22)">
<rect x="368.00" y="161.00" width="37.60" height="37.30" fill="#d3d3d3"/>
<path d="M368,188 Q380,186 388,192 Q398,189 406,187 L406,199 L368,199 Z" fill="#bebebe"/>
<g filter="url(#rough)">
<path d="M373,176.5 L383,178 L393,179.5" fill="none" stroke="#8a8a8a" stroke-width="7.30" stroke-linecap="round" stroke-linejoin="round"/>
<path d="M373,176.5 L383,178 L393,179.5" fill="none" stroke="#a2a2a2" stroke-width="6.5" stroke-linecap="round" stroke-linejoin="round"/>
</g></g>
<clipPath id="cl23"><rect x="406.50" y="161.00" width="37.60" height="37.30"/></clipPath>
<g clip-path="url(#cl23)">
<rect x="406.50" y="161.00" width="37.60" height="37.30" fill="#bfbfbf"/>
<ellipse cx="430" cy="176" rx="19" ry="18" fill="#d2d2d2"/>
<g filter="url(#rough)">
<path d="M426,170.5 L424.5,180 L424.5,187.5" fill="none" stroke="#999999" stroke-width="9.80" stroke-linecap="round" stroke-linejoin="round"/>
<path d="M426,170.5 L424.5,180 L424.5,187.5" fill="none" stroke="#b2b2b2" stroke-width="9" stroke-linecap="round" stroke-linejoin="round"/>
</g></g>
<clipPath id="cl24"><rect x="329.20" y="208.30" width="37.60" height="37.30"/></clipPath>
<g clip-path="url(#cl24)">
<rect x="329.20" y="208.30" width="37.60" height="37.30" fill="#d5d5d5"/>
<g filter="url(#rough)">
<path d="M349,218.5 L346,226 L344,233" fill="none" stroke="#a8a8a8" stroke-width="8.30" stroke-linecap="round" stroke-linejoin="round"/>
<path d="M349,218.5 L346,226 L344,233" fill="none" stroke="#c8c8c8" stroke-width="7.5" stroke-linecap="round" stroke-linejoin="round"/>
</g></g>
<clipPath id="cl25"><rect x="368.00" y="208.30" width="37.60" height="37.30"/></clipPath>
<g clip-path="url(#cl25)">
<rect x="368.00" y="208.30" width="37.60" height="37.30" fill="#b1b1b1"/>
<g filter="url(#rough)">
<path d="M392.5,217 L386,228 L379,238" fill="none" stroke="#777777" stroke-width="7.60" stroke-linecap="round" stroke-linejoin="round"/>
<path d="M392.5,217 L386,228 L379,238" fill="none" stroke="#8a8a8a" stroke-width="6.8" stroke-linecap="round" stroke-linejoin="round"/>
</g></g>
<clipPath id="cl26"><rect x="406.50" y="208.30" width="37.60" height="37.30"/></clipPath>
<g clip-path="url(#cl26)">
<rect x="406.50" y="208.30" width="37.60" height="37.30" fill="#c3c3c3"/>
<g filter="url(#rough)">
<path d="M413.5,215.5 L420,224.5 L432.5,231 L434.5,238" fill="none" stroke="#a0a0a0" stroke-width="7.80" stroke-linecap="round" stroke-linejoin="round"/>
<path d="M413.5,215.5 L420,224.5 L432.5,231 L434.5,238" fill="none" stroke="#b8b8b8" stroke-width="7" stroke-linecap="round" stroke-linejoin="round"/>
</g></g>
<clipPath id="cl27"><rect x="329.20" y="255.90" width="37.60" height="37.30"/></clipPath>
<g clip-path="url(#cl27)">
<rect x="329.20" y="255.90" width="37.60" height="37.30" fill="#a8a8a8"/>
<g filter="url(#rough)">
<path d="M337,263.5 L348,272 L360.5,282" fill="none" stroke="#8c8c8c" stroke-width="7.80" stroke-linecap="round" stroke-linejoin="round"/>
<path d="M337,263.5 L348,272 L360.5,282" fill="none" stroke="#a2a2a2" stroke-width="7" stroke-linecap="round" stroke-linejoin="round"/>
</g></g>
<clipPath id="cl28"><rect x="368.00" y="255.90" width="37.60" height="37.30"/></clipPath>
<g clip-path="url(#cl28)">
<rect x="368.00" y="255.90" width="37.60" height="37.30" fill="#ababab"/>
<g filter="url(#rough)">
<path d="M378.5,265 L383,272" fill="none" stroke="#929292" stroke-width="11.80" stroke-linecap="round" stroke-linejoin="round"/>
<path d="M383,272 L391,280 L398,286" fill="none" stroke="#929292" stroke-width="7.80" stroke-linecap="round" stroke-linejoin="round"/>
<path d="M378.5,265 L383,272" fill="none" stroke="#a6a6a6" stroke-width="11" stroke-linecap="round" stroke-linejoin="round"/>
<path d="M383,272 L391,280 L398,286" fill="none" stroke="#a6a6a6" stroke-width="7" stroke-linecap="round" stroke-linejoin="round"/>
</g></g>
<clipPath id="cl29"><rect x="406.50" y="255.90" width="37.60" height="37.30"/></clipPath>
<g clip-path="url(#cl29)">
<rect x="406.50" y="255.90" width="37.60" height="37.30" fill="#d0d0d0"/>
<path d="M406,256 Q420,268 414,293 L406,293 Z" fill="#e0e0e0"/>
<g filter="url(#rough)">
<path d="M429,260.5 L424,276 L417.5,289" fill="none" stroke="#888888" stroke-width="7.80" stroke-linecap="round" stroke-linejoin="round"/>
<path d="M429,260.5 L424,276 L417.5,289" fill="none" stroke="#a6a6a6" stroke-width="7" stroke-linecap="round" stroke-linejoin="round"/>
</g></g>
<clipPath id="cl30"><rect x="329.20" y="303.80" width="37.60" height="37.30"/></clipPath>
<g clip-path="url(#cl30)">
<rect x="329.20" y="303.80" width="37.60" height="37.30" fill="#d0d0d0"/>
<linearGradient id="gr30" x1="0" y1="0" x2="1" y2="1"><stop offset="0" stop-color="#000000" stop-opacity="0.05"/><stop offset="1" stop-color="#ffffff" stop-opacity="0.2"/></linearGradient>
<rect x="329.20" y="303.80" width="37.60" height="37.30" fill="url(#gr30)"/>
<g filter="url(#rough)">
<path d="M339.5,313.5 L343,320" fill="none" stroke="#8a8a8a" stroke-width="10.30" stroke-linecap="round" stroke-linejoin="round"/>
<path d="M343,320 L352,325 L360.5,329.5" fill="none" stroke="#8a8a8a" stroke-width="7.80" stroke-linecap="round" stroke-linejoin="round"/>
<path d="M339.5,313.5 L343,320" fill="none" stroke="#a2a2a2" stroke-width="9.5" stroke-linecap="round" stroke-linejoin="round"/>
<path d="M343,320 L352,325 L360.5,329.5" fill="none" stroke="#a2a2a2" stroke-width="7" stroke-linecap="round" stroke-linejoin="round"/>
</g></g>
<text x="348.00" y="204.70" font-size="6.4" fill="#262626" text-anchor="middle" font-weight="normal" >R1_G7</text>
<text x="386.80" y="204.70" font-size="6.4" fill="#262626" text-anchor="middle" font-weight="normal" >R2_G3</text>
<text x="425.30" y="204.70" font-size="6.4" fill="#262626" text-anchor="middle" font-weight="normal" >R2_G4</text>
<text x="348.00" y="252.00" font-size="6.4" fill="#262626" text-anchor="middle" font-weight="normal" >R3_G3</text>
<text x="386.80" y="252.00" font-size="6.4" fill="#262626" text-anchor="middle" font-weight="normal" >R4_G1</text>
<text x="425.30" y="252.00" font-size="6.4" fill="#262626" text-anchor="middle" font-weight="normal" >R4_G6</text>
<text x="348.00" y="299.60" font-size="6.4" fill="#262626" text-anchor="middle" font-weight="normal" >R5_G4</text>
<text x="386.80" y="299.60" font-size="6.4" fill="#262626" text-anchor="middle" font-weight="normal" >R5_G13</text>
<text x="425.30" y="299.60" font-size="6.4" fill="#262626" text-anchor="middle" font-weight="normal" >R6_G9</text>
<text x="348.00" y="347.50" font-size="6.4" fill="#262626" text-anchor="middle" font-weight="normal" >R6_G11</text>
<defs><linearGradient id="coneA" x1="0" y1="0" x2="1" y2="0"><stop offset="0" stop-color="#f39a2e" stop-opacity="0.95"/><stop offset="0.55" stop-color="#f8c47a" stop-opacity="0.75"/><stop offset="1" stop-color="#fde6c6" stop-opacity="0.6"/></linearGradient><linearGradient id="coneD" x1="0" y1="0" x2="1" y2="1"><stop offset="0" stop-color="#f39a2e" stop-opacity="0.95"/><stop offset="0.55" stop-color="#f8c47a" stop-opacity="0.8"/><stop offset="1" stop-color="#fde6c6" stop-opacity="0.65"/></linearGradient><pattern id="haus" width="2.2" height="2.2" patternUnits="userSpaceOnUse"><rect width="2.2" height="2.2" fill="#a95f51"/><circle cx="1.1" cy="1.1" r="0.55" fill="#c98474"/></pattern></defs>
<path d="M9.8,55.5 L9.8,21 Q9.8,18.2 12.5,18.3" fill="none" stroke="#7a3a2f" stroke-width="11.3" stroke-linecap="round" stroke-linejoin="round"/>
<path d="M10.5,18.4 Q20,19 27,21.2 Q33,21.6 38,17.4 Q43.5,11.5 47.2,8.8 Q51.6,6.6 51.8,12" fill="none" stroke="#7a3a2f" stroke-width="9.600000000000001" stroke-linecap="round" stroke-linejoin="round"/>
<path d="M51.8,11 L51.8,51" fill="none" stroke="#7a3a2f" stroke-width="10.3" stroke-linecap="round" stroke-linejoin="round"/>
<path d="M51.8,50 Q51,55 46,54.5 Q41,50.5 35.5,51.5 Q30.5,53 30.3,59.5 Q30.6,65 34.2,65.2" fill="none" stroke="#7a3a2f" stroke-width="9.5" stroke-linecap="round" stroke-linejoin="round"/>
<path d="M9.8,55.5 L9.8,21 Q9.8,18.2 12.5,18.3" fill="none" stroke="#b06a59" stroke-width="10.0" stroke-linecap="round" stroke-linejoin="round"/>
<path d="M10.5,18.4 Q20,19 27,21.2 Q33,21.6 38,17.4 Q43.5,11.5 47.2,8.8 Q51.6,6.6 51.8,12" fill="none" stroke="#b06a59" stroke-width="8.3" stroke-linecap="round" stroke-linejoin="round"/>
<path d="M51.8,11 L51.8,51" fill="none" stroke="#b06a59" stroke-width="9.0" stroke-linecap="round" stroke-linejoin="round"/>
<path d="M51.8,50 Q51,55 46,54.5 Q41,50.5 35.5,51.5 Q30.5,53 30.3,59.5 Q30.6,65 34.2,65.2" fill="none" stroke="#b06a59" stroke-width="8.2" stroke-linecap="round" stroke-linejoin="round"/>
<path d="M9.8,55.5 L9.8,21 Q9.8,18.2 12.5,18.3" fill="none" stroke="#cc907f" stroke-width="7.40" stroke-linejoin="round" stroke-dasharray="3.0 1.1"/>
<path d="M10.5,18.4 Q20,19 27,21.2 Q33,21.6 38,17.4 Q43.5,11.5 47.2,8.8 Q51.6,6.6 51.8,12" fill="none" stroke="#cc907f" stroke-width="6.14" stroke-linejoin="round" stroke-dasharray="3.0 1.1"/>
<path d="M51.8,11 L51.8,51" fill="none" stroke="#cc907f" stroke-width="6.66" stroke-linejoin="round" stroke-dasharray="3.0 1.1"/>
<path d="M51.8,50 Q51,55 46,54.5 Q41,50.5 35.5,51.5 Q30.5,53 30.3,59.5 Q30.6,65 34.2,65.2" fill="none" stroke="#cc907f" stroke-width="6.07" stroke-linejoin="round" stroke-dasharray="3.0 1.1"/>
<path d="M9.8,55.5 L9.8,21 Q9.8,18.2 12.5,18.3" fill="none" stroke="#8e4638" stroke-width="0.7" stroke-linecap="round" stroke-linejoin="round"/>
<path d="M10.5,18.4 Q20,19 27,21.2 Q33,21.6 38,17.4 Q43.5,11.5 47.2,8.8 Q51.6,6.6 51.8,12" fill="none" stroke="#8e4638" stroke-width="0.7" stroke-linecap="round" stroke-linejoin="round"/>
<path d="M51.8,11 L51.8,51" fill="none" stroke="#8e4638" stroke-width="0.7" stroke-linecap="round" stroke-linejoin="round"/>
<path d="M51.8,50 Q51,55 46,54.5 Q41,50.5 35.5,51.5 Q30.5,53 30.3,59.5 Q30.6,65 34.2,65.2" fill="none" stroke="#8e4638" stroke-width="0.7" stroke-linecap="round" stroke-linejoin="round"/>
<path d="M9.8,55.5 L9.8,21 Q9.8,18.2 12.5,18.3" fill="none" stroke="#75362b" stroke-width="11.4" stroke-linejoin="round" stroke-dasharray="0.9 3.2" opacity="0.5"/>
<path d="M10.5,18.4 Q20,19 27,21.2 Q33,21.6 38,17.4 Q43.5,11.5 47.2,8.8 Q51.6,6.6 51.8,12" fill="none" stroke="#75362b" stroke-width="9.700000000000001" stroke-linejoin="round" stroke-dasharray="0.9 3.2" opacity="0.5"/>
<path d="M51.8,11 L51.8,51" fill="none" stroke="#75362b" stroke-width="10.4" stroke-linejoin="round" stroke-dasharray="0.9 3.2" opacity="0.5"/>
<path d="M51.8,50 Q51,55 46,54.5 Q41,50.5 35.5,51.5 Q30.5,53 30.3,59.5 Q30.6,65 34.2,65.2" fill="none" stroke="#75362b" stroke-width="9.6" stroke-linejoin="round" stroke-dasharray="0.9 3.2" opacity="0.5"/>
<path d="M14.6,52 q1.6,3 0.9,5.5 q-0.6,1.4 0.4,2" fill="none" stroke="#7a3a2f" stroke-width="1.6" stroke-linecap="round"/>
<path d="M14.6,52 q1.6,3 0.9,5.5" fill="none" stroke="#b06a59" stroke-width="0.7" stroke-linecap="round"/>
<polygon points="12,41.6 66,22.2 66.5,45.6" fill="url(#coneA)"/>
<line x1="12" y1="41.6" x2="66" y2="22.2" stroke="#c98e4a" stroke-width="0.35"/><line x1="12" y1="41.6" x2="66.5" y2="45.6" stroke="#c98e4a" stroke-width="0.35"/>
<circle cx="73.2" cy="34.4" r="13.8" fill="#fff" stroke="#151515" stroke-width="0.9"/>
<circle cx="73.2" cy="34.4" r="12.30" fill="none" stroke="#2a2a2a" stroke-width="0.55"/>
<path d="M62.41,34.87 C62.04,27.89 66.69,23.98 72.27,23.98 C75.99,23.80 77.85,25.10 79.71,25.29 C82.50,26.03 82.97,28.82 82.69,31.14 C84.36,33.47 83.90,38.12 82.03,40.45 C80.64,43.70 75.99,44.44 72.27,44.26 C67.62,44.16 62.78,40.91 62.41,34.87 Z" fill="#cc7880"/>
<path d="M65.76,31.61 l2,1 M71.34,28.82 l2,1 M75.99,36.26 l2,1 M68.55,39.05 l2,1 M77.85,30.68 l1.5,1 M72.27,35.33 l2,0.5 M66.69,36.26 l1.5,0.8 M74.13,40.91 l2,0.4" stroke="#d9929a" stroke-width="0.6"/>
<circle cx="12" cy="41.6" r="1.5" fill="#e8141e"/>
<circle cx="48.5" cy="54.5" r="1.1" fill="#223a88"/>
<line x1="49.5" y1="55.5" x2="58.5" y2="60.5" stroke="#333" stroke-width="0.45"/>
<text x="59.80" y="16.60" font-size="6.35" fill="#222" text-anchor="start" font-weight="normal" >Polyp (P2)</text>
<text x="59.90" y="63.40" font-size="6.3" fill="#222" text-anchor="start" font-weight="normal" >Normal (N2)</text>
<linearGradient id="ta31" gradientUnits="userSpaceOnUse" x1="91.00" y1="35.30" x2="96.20" y2="35.30"><stop offset="0" stop-color="#c8dede" stop-opacity="0.3"/><stop offset="1" stop-color="#3cb5b8"/></linearGradient>
<line x1="91.00" y1="35.30" x2="96.70" y2="35.30" stroke="url(#ta31)" stroke-width="1.9"/>
<polygon points="102.20,35.30 96.20,38.10 96.20,32.50" fill="#3cb5b8"/>
<linearGradient id="ta32" gradientUnits="userSpaceOnUse" x1="124.00" y1="67.20" x2="124.00" y2="72.50"><stop offset="0" stop-color="#c8dede" stop-opacity="0.3"/><stop offset="1" stop-color="#3cb5b8"/></linearGradient>
<line x1="124.00" y1="67.20" x2="124.00" y2="73.00" stroke="url(#ta32)" stroke-width="1.9"/>
<polygon points="124.00,78.50 121.20,72.50 126.80,72.50" fill="#3cb5b8"/>
<linearGradient id="ta33" gradientUnits="userSpaceOnUse" x1="72.00" y1="117.20" x2="66.58" y2="116.77"><stop offset="0" stop-color="#c8dede" stop-opacity="0.3"/><stop offset="1" stop-color="#3cb5b8"/></linearGradient>
<line x1="72.00" y1="117.20" x2="66.08" y2="116.73" stroke="url(#ta33)" stroke-width="1.9"/>
<polygon points="60.60,116.30 66.80,113.98 66.36,119.56" fill="#3cb5b8"/>
<clipPath id="pa"><path d="M118.5,19.2 Q119,15 122.5,15 Q126,15.3 126.2,19 L126.4,22.5 Q131,25 135.6,27.7 Q139.5,30 140.8,34.9 L140.1,40.1 L139.5,46 Q138.5,49 136.2,49.5 L128.3,50.2 Q125.5,49.8 124.4,48 L119.8,42.8 Q116.5,39.5 116,36 Q115.5,32.5 117.2,29 L118.5,24.4 Z"/></clipPath>
<radialGradient id="r6g"><stop offset="0" stop-color="#a86a6c"/><stop offset="1" stop-color="#d49a9a"/></radialGradient>
<path d="M118.5,19.2 Q119,15 122.5,15 Q126,15.3 126.2,19 L126.4,22.5 Q131,25 135.6,27.7 Q139.5,30 140.8,34.9 L140.1,40.1 L139.5,46 Q138.5,49 136.2,49.5 L128.3,50.2 Q125.5,49.8 124.4,48 L119.8,42.8 Q116.5,39.5 116,36 Q115.5,32.5 117.2,29 L118.5,24.4 Z" fill="#e8adab"/>
<g clip-path="url(#pa)"><ellipse cx="122.3" cy="18.3" rx="4.8" ry="5.2" fill="#3b2a2a"/><ellipse cx="115.6" cy="34.2" rx="3.6" ry="6.3" fill="#3b2a2a"/><ellipse cx="135.8" cy="27.2" rx="5.6" ry="4.6" fill="#3b2a2a"/><ellipse cx="131" cy="51" rx="7.2" ry="4.3" fill="#3b2a2a"/><circle cx="132.9" cy="35.8" r="4.5" fill="url(#r6g)"/><circle cx="125.7" cy="37.5" r="3.9" fill="#3b2a2a"/></g>
<path d="M118.5,19.2 Q119,15 122.5,15 Q126,15.3 126.2,19 L126.4,22.5 Q131,25 135.6,27.7 Q139.5,30 140.8,34.9 L140.1,40.1 L139.5,46 Q138.5,49 136.2,49.5 L128.3,50.2 Q125.5,49.8 124.4,48 L119.8,42.8 Q116.5,39.5 116,36 Q115.5,32.5 117.2,29 L118.5,24.4 Z" fill="none" stroke="#5a2a22" stroke-width="1.0"/>
<polyline points="133.6,35.6 142.1,29.7 146,29.4" fill="none" stroke="#222" stroke-width="0.7"/>
<polyline points="123.1,41.5 119.2,45.1 113.3,45.4" fill="none" stroke="#222" stroke-width="0.7"/>
<text transform="translate(117.30,12.90) scale(0.88,1)" font-size="6.7" fill="#222">R1</text>
<text transform="translate(132.40,23.60) scale(0.88,1)" font-size="6.7" fill="#222">R2</text>
<text transform="translate(147.00,31.60) scale(0.88,1)" font-size="6.7" fill="#222">R6</text>
<text transform="translate(106.00,31.20) scale(0.88,1)" font-size="6.7" fill="#222">R4</text>
<text transform="translate(103.80,48.40) scale(0.88,1)" font-size="6.7" fill="#222">R5</text>
<text transform="translate(129.90,57.00) scale(0.88,1)" font-size="6.7" fill="#222">R3</text>
<circle cx="76.1" cy="85.2" r="16" fill="#fff" stroke="#555" stroke-width="0.6"/>
<line x1="89.8" y1="77.0" x2="101.3" y2="93.6" stroke="#444" stroke-width="0.45"/>
<line x1="88.5" y1="96.8" x2="101.5" y2="97.9" stroke="#444" stroke-width="0.45"/>
<path d="M74.8,72.6 C77.5,73.5 76,76.5 79,78 C81,79.2 81.8,79.8 83,80.6" fill="none" stroke="#52c49a" stroke-width="1.1"/><path d="M77.6,71.8 C76.4,74.5 80,76.2 78.6,78.6 C77.8,80 80.2,80.8 80.8,81.6" fill="none" stroke="#52c49a" stroke-width="1.1"/><path d="M76.2,74.6 l2.4,-0.6 M77.2,76.8 l2.4,-0.5 M78.6,79.2 l2.2,-0.4" stroke="#52c49a" stroke-width="0.7"/>
<line x1="76.6" y1="81.8" x2="76.6" y2="83.6" stroke="#222" stroke-width="0.4"/><polygon points="76.6,84.3 76,83.2 77.2,83.2" fill="#222"/>
<line x1="65" y1="85.5" x2="90" y2="85.5" stroke="#5cc79f" stroke-width="1.0"/>
<path d="M67.2,89.2 l1.5,-0.3 M69.5,88 l1.5,-0.3 M71.5,88.8 l1.3,-0.2 M72.5,87.4 l1.6,-0.3" stroke="#f0a040" stroke-width="0.7"/><path d="M70.5,89.6 l1.3,-0.2 M73.5,88.6 l1.2,-0.2" stroke="#e060a0" stroke-width="0.7"/>
<line x1="76.4" y1="87.4" x2="76.4" y2="89.4" stroke="#222" stroke-width="0.4"/><polygon points="76.4,90 75.8,89 77,89" fill="#222"/>
<line x1="65.6" y1="93.3" x2="84.8" y2="93.3" stroke="#e25aa8" stroke-width="1.0" stroke-dasharray="2.2 0.5 1.5 0.5"/>
<line x1="65.6" y1="94.8" x2="84.8" y2="94.8" stroke="#7cc890" stroke-width="0.9" stroke-dasharray="1.6 0.6 2.4 0.6"/>
<line x1="66.2" y1="94.8" x2="84" y2="94.8" stroke="#e25aa8" stroke-width="0.9" stroke-dasharray="0.8 3.5"/>
<path d="M101,88.3 L107.7,88.3 L107.5,94 L104.5,106.4 Q104.2,106.8 103.9,106.4 L101.3,94 Z" fill="#e2e2e2" stroke="#666" stroke-width="0.45"/>
<path d="M101.4,93.8 L107.4,93.8 L104.5,106.2 Q104.2,106.6 103.9,106.2 Z" fill="#a9d9ea"/>
<path d="M107.7,88.3 L110,87.4 M110,87.4 C111,85 114,84.8 115.6,85.6 C116.3,86.8 114,88.6 111,88.6 Z" fill="none" stroke="#555" stroke-width="0.5"/>
<line x1="118.80" y1="101.90" x2="111.55" y2="97.70" stroke="#222" stroke-width="0.55"/>
<polygon points="109.30,96.40 112.15,96.66 110.95,98.74" fill="#111"/>
<line x1="131.60" y1="124.00" x2="129.53" y2="120.53" stroke="#222" stroke-width="0.55"/>
<polygon points="128.20,118.30 130.56,119.92 128.50,121.15" fill="#111"/>
<path d="M112.6,102 Q114.2,103 114.2,105.5 L114.2,109 Q114.2,111.4 116.3,111.4 Q118.4,111.4 118.4,109 L118.4,105 Q118.4,102.6 121.2,101.6" fill="none" stroke="#b0625e" stroke-width="1.9" stroke-linecap="round" stroke-linejoin="round"/>
<path d="M112.6,102 Q114.2,103 114.2,105.5 L114.2,109 Q114.2,111.4 116.3,111.4 Q118.4,111.4 118.4,109 L118.4,105 Q118.4,102.6 121.2,101.6" fill="none" stroke="#e6a4a0" stroke-width="1.1" stroke-linecap="round" stroke-linejoin="round"/>
<path d="M125,97.6 Q126.9,98.6 127.1,101 L127.3,105 Q127.5,107.7 129.2,107.7 Q130.9,107.7 131,105 L131.2,101 Q131.4,98.4 134,97.2" fill="none" stroke="#b0625e" stroke-width="1.9" stroke-linecap="round" stroke-linejoin="round"/>
<path d="M125,97.6 Q126.9,98.6 127.1,101 L127.3,105 Q127.5,107.7 129.2,107.7 Q130.9,107.7 131,105 L131.2,101 Q131.4,98.4 134,97.2" fill="none" stroke="#e6a4a0" stroke-width="1.1" stroke-linecap="round" stroke-linejoin="round"/>
<path d="M121.5,108.8 Q123.2,109.6 123.4,112 L123.8,116 Q124.2,118.5 126.2,118.5 Q128.2,118.5 128.3,116 L128.6,111.5 Q128.8,109.4 129.8,107.8" fill="none" stroke="#b0625e" stroke-width="1.9" stroke-linecap="round" stroke-linejoin="round"/>
<path d="M121.5,108.8 Q123.2,109.6 123.4,112 L123.8,116 Q124.2,118.5 126.2,118.5 Q128.2,118.5 128.3,116 L128.6,111.5 Q128.8,109.4 129.8,107.8" fill="none" stroke="#e6a4a0" stroke-width="1.1" stroke-linecap="round" stroke-linejoin="round"/>
<polygon points="97,125 151.9,125 155.4,137.2 87.6,137.2" fill="#c9cddf" stroke="#333" stroke-width="0.6"/>
<ellipse cx="134.3" cy="130.3" rx="12" ry="2.8" fill="#f2c2c6" stroke="#d0303a" stroke-width="0.6"/>
<rect x="16.3" y="107.1" width="15.6" height="10.6" rx="0.6" fill="#151515"/>
<linearGradient id="scr" x1="0" y1="0" x2="1" y2="1"><stop offset="0" stop-color="#c8d6d8"/><stop offset="1" stop-color="#a8babe"/></linearGradient>
<rect x="17.7" y="108.5" width="12.8" height="7.7" fill="url(#scr)"/>
<rect x="31" y="114.5" width="6" height="1.5" fill="#222"/>
<rect x="20.8" y="119.4" width="16.5" height="15.3" rx="1" fill="#111"/>
<linearGradient id="wp" x1="0" y1="0" x2="0" y2="1"><stop offset="0" stop-color="#ffffff"/><stop offset="1" stop-color="#bcbcbc"/></linearGradient>
<rect x="22.3" y="120.5" width="13.9" height="6.3" fill="url(#wp)"/>
<rect x="22" y="127.5" width="14.5" height="6.5" fill="#2a2a2a"/>
<rect x="36.4" y="109.1" width="18.6" height="25.6" rx="0.8" fill="#111"/>
<linearGradient id="wp2" x1="0" y1="0" x2="1" y2="1"><stop offset="0" stop-color="#ffffff"/><stop offset="0.7" stop-color="#f4f4f4"/><stop offset="1" stop-color="#c8c8c8"/></linearGradient>
<rect x="40.8" y="109.8" width="13.6" height="8.8" fill="url(#wp2)"/>
<rect x="40.8" y="120.2" width="13.6" height="14" fill="url(#wp2)"/>
<rect x="39.5" y="118.8" width="15" height="1.2" fill="#3a6e8c"/>
<text x="8.20" y="145.20" font-size="6.6" fill="#222" text-anchor="start" font-weight="normal" >Single-crypt WGS</text>
<text x="90.20" y="145.20" font-size="6.6" fill="#222" text-anchor="start" font-weight="normal" >Single-crypt isolation</text>
<path d="M348.4,65 L348.4,30.5 Q348.6,28.4 352,28.6" fill="none" stroke="#7a3a2f" stroke-width="11.5" stroke-linecap="round" stroke-linejoin="round"/>
<path d="M350.5,28.8 L357,28.7 L366,29.3 Q372,28.5 378,25 L384.5,19.5 Q390.6,15.5 390.8,21" fill="none" stroke="#7a3a2f" stroke-width="9.700000000000001" stroke-linecap="round" stroke-linejoin="round"/>
<path d="M390.8,20 L390.8,56" fill="none" stroke="#7a3a2f" stroke-width="11.100000000000001" stroke-linecap="round" stroke-linejoin="round"/>
<path d="M390.8,55 Q390,59.5 385.5,59.5 Q381,57 377,57.3 Q371.5,58 369.7,62.5 Q368.2,68 369,72 Q370.5,77 373.5,76.2" fill="none" stroke="#7a3a2f" stroke-width="9.3" stroke-linecap="round" stroke-linejoin="round"/>
<path d="M348.4,65 L348.4,30.5 Q348.6,28.4 352,28.6" fill="none" stroke="#b06a59" stroke-width="10.2" stroke-linecap="round" stroke-linejoin="round"/>
<path d="M350.5,28.8 L357,28.7 L366,29.3 Q372,28.5 378,25 L384.5,19.5 Q390.6,15.5 390.8,21" fill="none" stroke="#b06a59" stroke-width="8.4" stroke-linecap="round" stroke-linejoin="round"/>
<path d="M390.8,20 L390.8,56" fill="none" stroke="#b06a59" stroke-width="9.8" stroke-linecap="round" stroke-linejoin="round"/>
<path d="M390.8,55 Q390,59.5 385.5,59.5 Q381,57 377,57.3 Q371.5,58 369.7,62.5 Q368.2,68 369,72 Q370.5,77 373.5,76.2" fill="none" stroke="#b06a59" stroke-width="8.0" stroke-linecap="round" stroke-linejoin="round"/>
<path d="M348.4,65 L348.4,30.5 Q348.6,28.4 352,28.6" fill="none" stroke="#cc907f" stroke-width="7.55" stroke-linejoin="round" stroke-dasharray="3.0 1.1"/>
<path d="M350.5,28.8 L357,28.7 L366,29.3 Q372,28.5 378,25 L384.5,19.5 Q390.6,15.5 390.8,21" fill="none" stroke="#cc907f" stroke-width="6.22" stroke-linejoin="round" stroke-dasharray="3.0 1.1"/>
<path d="M390.8,20 L390.8,56" fill="none" stroke="#cc907f" stroke-width="7.25" stroke-linejoin="round" stroke-dasharray="3.0 1.1"/>
<path d="M390.8,55 Q390,59.5 385.5,59.5 Q381,57 377,57.3 Q371.5,58 369.7,62.5 Q368.2,68 369,72 Q370.5,77 373.5,76.2" fill="none" stroke="#cc907f" stroke-width="5.92" stroke-linejoin="round" stroke-dasharray="3.0 1.1"/>
<path d="M348.4,65 L348.4,30.5 Q348.6,28.4 352,28.6" fill="none" stroke="#8e4638" stroke-width="0.7" stroke-linecap="round" stroke-linejoin="round"/>
<path d="M350.5,28.8 L357,28.7 L366,29.3 Q372,28.5 378,25 L384.5,19.5 Q390.6,15.5 390.8,21" fill="none" stroke="#8e4638" stroke-width="0.7" stroke-linecap="round" stroke-linejoin="round"/>
<path d="M390.8,20 L390.8,56" fill="none" stroke="#8e4638" stroke-width="0.7" stroke-linecap="round" stroke-linejoin="round"/>
<path d="M390.8,55 Q390,59.5 385.5,59.5 Q381,57 377,57.3 Q371.5,58 369.7,62.5 Q368.2,68 369,72 Q370.5,77 373.5,76.2" fill="none" stroke="#8e4638" stroke-width="0.7" stroke-linecap="round" stroke-linejoin="round"/>
<path d="M348.4,65 L348.4,30.5 Q348.6,28.4 352,28.6" fill="none" stroke="#75362b" stroke-width="11.6" stroke-linejoin="round" stroke-dasharray="0.9 3.2" opacity="0.5"/>
<path d="M350.5,28.8 L357,28.7 L366,29.3 Q372,28.5 378,25 L384.5,19.5 Q390.6,15.5 390.8,21" fill="none" stroke="#75362b" stroke-width="9.8" stroke-linejoin="round" stroke-dasharray="0.9 3.2" opacity="0.5"/>
<path d="M390.8,20 L390.8,56" fill="none" stroke="#75362b" stroke-width="11.200000000000001" stroke-linejoin="round" stroke-dasharray="0.9 3.2" opacity="0.5"/>
<path d="M390.8,55 Q390,59.5 385.5,59.5 Q381,57 377,57.3 Q371.5,58 369.7,62.5 Q368.2,68 369,72 Q370.5,77 373.5,76.2" fill="none" stroke="#75362b" stroke-width="9.4" stroke-linejoin="round" stroke-dasharray="0.9 3.2" opacity="0.5"/>
<path d="M353.4,62 q1.5,3 0.8,5.2 q-0.5,1.3 0.5,1.9" fill="none" stroke="#7a3a2f" stroke-width="1.6" stroke-linecap="round"/>
<path d="M353.4,62 q1.5,3 0.8,5.2" fill="none" stroke="#b06a59" stroke-width="0.7" stroke-linecap="round"/>
<polygon points="390.8,32.5 411.8,81.5 431.8,70.6" fill="url(#coneD)"/>
<line x1="390.8" y1="32.5" x2="411.8" y2="81.5" stroke="#c98e4a" stroke-width="0.35"/><line x1="390.8" y1="32.5" x2="431.8" y2="70.6" stroke="#c98e4a" stroke-width="0.35"/>
<circle cx="424.6" cy="83.9" r="14.0" fill="#fff" stroke="#151515" stroke-width="0.9"/>
<circle cx="424.6" cy="83.9" r="12.50" fill="none" stroke="#2a2a2a" stroke-width="0.55"/>
<path d="M413.81,84.37 C413.44,77.39 418.09,73.48 423.67,73.48 C427.39,73.30 429.25,74.60 431.11,74.79 C433.90,75.53 434.37,78.32 434.09,80.65 C435.76,82.97 435.30,87.62 433.44,89.95 C432.04,93.20 427.39,93.94 423.67,93.76 C419.02,93.67 414.18,90.41 413.81,84.37 Z" fill="#cc7880"/>
<path d="M417.16,81.11 l2,1 M422.74,78.32 l2,1 M427.39,85.76 l2,1 M419.95,88.55 l2,1 M429.25,80.18 l1.5,1 M423.67,84.83 l2,0.5 M418.09,85.76 l1.5,0.8 M425.53,90.41 l2,0.4" stroke="#d9929a" stroke-width="0.6"/>
<circle cx="390.6" cy="32.5" r="2.8" fill="#e8141e"/>
<circle cx="352.5" cy="25.7" r="0.9" fill="#223a88"/>
<circle cx="365" cy="27.5" r="0.9" fill="#223a88"/>
<circle cx="346.8" cy="50.3" r="0.9" fill="#223a88"/>
<circle cx="386" cy="59.4" r="0.9" fill="#223a88"/>
<line x1="336.5" y1="20.4" x2="352" y2="25.5" stroke="#333" stroke-width="0.45"/>
<line x1="352.5" y1="17.7" x2="364.6" y2="27.2" stroke="#333" stroke-width="0.45"/>
<line x1="336.5" y1="56.4" x2="346.4" y2="50.6" stroke="#333" stroke-width="0.45"/>
<line x1="373" y1="49.1" x2="385.6" y2="59.1" stroke="#333" stroke-width="0.45"/>
<text transform="translate(327.30,21.90) scale(0.85,1)" font-size="6.7" fill="#222">N4</text>
<text transform="translate(345.70,16.70) scale(0.85,1)" font-size="6.7" fill="#222">N5</text>
<text transform="translate(327.30,60.70) scale(0.85,1)" font-size="6.7" fill="#222">N2</text>
<text transform="translate(366.30,48.70) scale(0.85,1)" font-size="6.7" fill="#222">N6</text>
<text x="407.90" y="105.90" font-size="6.25" fill="#222" text-anchor="start" font-weight="normal" >Tumour (T3)</text>
<linearGradient id="ta34" gradientUnits="userSpaceOnUse" x1="401.80" y1="98.00" x2="395.97" y2="101.85"><stop offset="0" stop-color="#c8dede" stop-opacity="0.3"/><stop offset="1" stop-color="#3cb5b8"/></linearGradient>
<line x1="401.80" y1="98.00" x2="395.56" y2="102.12" stroke="url(#ta34)" stroke-width="1.7"/>
<polygon points="391.80,104.60 394.60,99.76 397.35,103.93" fill="#3cb5b8"/>
<clipPath id="pd"><path d="M363.5,102.5 Q366,98 369.5,98 L374,98.3 Q377.5,99.5 378,103 L378.6,108.2 Q380.8,113 380.6,118 L380,129.6 L379.3,139.6 L364.2,140.3 Q361.5,139 361.4,135.3 L362.1,126.8 Q362,122 360.7,119.6 Q357,116.5 356.2,113.2 Q355.2,110 355.7,107.5 Q356.5,105 358.5,104.3 Z"/></clipPath>
<path d="M363.5,102.5 Q366,98 369.5,98 L374,98.3 Q377.5,99.5 378,103 L378.6,108.2 Q380.8,113 380.6,118 L380,129.6 L379.3,139.6 L364.2,140.3 Q361.5,139 361.4,135.3 L362.1,126.8 Q362,122 360.7,119.6 Q357,116.5 356.2,113.2 Q355.2,110 355.7,107.5 Q356.5,105 358.5,104.3 Z" fill="#e9aba8"/>
<path d="M366,106 l0.4,3 M371,104 l0.3,3.5 M368,113 l0.3,3 M374,110 l0.3,3 M366,120 l0.4,3 M372,124 l0.3,3 M369,129 l0.3,3 M375,118 l0.3,3 M367.5,126 l0.3,2.5" stroke="#d68a8a" stroke-width="0.5"/>
<g clip-path="url(#pd)"><ellipse cx="370.5" cy="99.3" rx="8.6" ry="5.5" fill="#3b2a2a"/><ellipse cx="357" cy="109.5" rx="5.2" ry="5.3" fill="#3b2a2a"/><ellipse cx="381.6" cy="120" rx="6.4" ry="5.9" fill="#3b2a2a"/><ellipse cx="360.8" cy="124.6" rx="4.2" ry="5.4" fill="#3b2a2a"/><ellipse cx="366.3" cy="141.2" rx="5.8" ry="6.8" fill="#3b2a2a"/><ellipse cx="375.8" cy="141.2" rx="5.2" ry="6.8" fill="#3b2a2a"/></g>
<line x1="371.1" y1="133.5" x2="371.1" y2="140.5" stroke="#e9aba8" stroke-width="0.9"/>
<path d="M363.5,102.5 Q366,98 369.5,98 L374,98.3 Q377.5,99.5 378,103 L378.6,108.2 Q380.8,113 380.6,118 L380,129.6 L379.3,139.6 L364.2,140.3 Q361.5,139 361.4,135.3 L362.1,126.8 Q362,122 360.7,119.6 Q357,116.5 356.2,113.2 Q355.2,110 355.7,107.5 Q356.5,105 358.5,104.3 Z" fill="none" stroke="#5a2a22" stroke-width="1.0"/>
<text transform="translate(347.40,104.80) scale(0.88,1)" font-size="6.7" fill="#222">R6</text>
<text transform="translate(378.20,101.40) scale(0.88,1)" font-size="6.7" fill="#222">R1</text>
<text transform="translate(381.40,122.00) scale(0.88,1)" font-size="6.7" fill="#222">R2</text>
<text transform="translate(350.20,126.60) scale(0.88,1)" font-size="6.7" fill="#222">R5</text>
<text transform="translate(350.60,141.40) scale(0.88,1)" font-size="6.7" fill="#222">R4</text>
<text transform="translate(381.40,140.00) scale(0.88,1)" font-size="6.7" fill="#222">R3</text>
</svg></body></html>
